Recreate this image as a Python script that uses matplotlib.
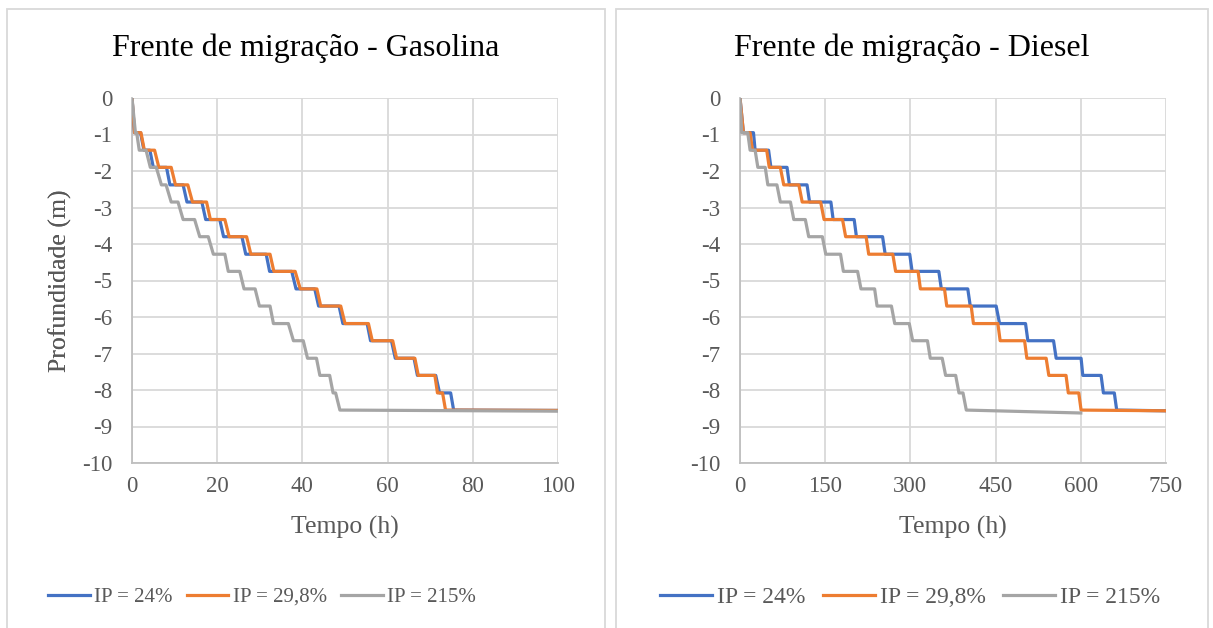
import matplotlib
matplotlib.use("Agg")
import matplotlib.pyplot as plt
from matplotlib.patches import Rectangle

plt.rcParams["font.family"] = ["Liberation Serif", "DejaVu Serif"]
plt.rcParams["axes.unicode_minus"] = False

_C = {
    "blue":   "#4472C4",
    "orange": "#ED7D31",
    "gray":   "#A5A5A5",
    "grid":   "#D9D9D9",
    "axis":   "#BFBFBF",
    "text":   "#595959",
}

series_labels = ["IP = 24%", "IP = 29,8%", "IP = 215%"]

# depth of each plateau of the migration front (m)
levels = [-0.95, -1.43, -1.90, -2.38, -2.85, -3.33, -3.80, -4.28, -4.75,
          -5.23, -5.70, -6.18, -6.65, -7.13, -7.60, -8.08, -8.55]

# Gasolina: start / end time (h) of each plateau
gas_24_start = [0.6, 2.8, 5.0, 8.9, 12.9, 17.3, 21.5, 26.7, 32.3, 38.5, 43.8,
                49.5, 56.0, 61.8, 67.0, 72.2, 75.5]
gas_24_end = [2.0, 4.2, 8.1, 12.0, 16.4, 20.6, 25.8, 31.5, 37.5, 42.9, 48.6,
              55.2, 60.9, 66.2, 71.3, 74.8, 100]
gas_298_start = [0.6, 2.9, 6.3, 10.2, 14.2, 18.4, 22.8, 27.9, 33.3, 39.5, 44.3,
                 50.0, 56.4, 62.1, 67.2, 71.7, 73.6]
gas_298_end = [2.1, 5.3, 9.2, 13.1, 17.5, 21.8, 26.9, 32.4, 38.3, 43.4, 49.0,
               55.5, 61.2, 66.4, 71.1, 72.9, 100]
gas_215_start = [0.8, 1.7, 4.3, 6.9, 9.2, 12.0, 15.9, 19.1, 22.6, 26.3, 29.9,
                 33.2, 37.9, 41.2, 44.1, 47.2, 48.8]
gas_215_end = [1.1, 3.3, 5.7, 8.0, 10.8, 14.7, 17.9, 21.8, 25.3, 28.9, 32.4,
               36.7, 40.2, 43.3, 46.4, 47.8, 100]
gas_final = [-8.56, -8.56, -8.58]

# Diesel
die_24_start = [6, 26.6, 54.4, 87, 122.5, 164, 205, 255.6, 303, 354.5, 405.4,
                457, 506.8, 556.6, 603.5, 639.8, 663.2]
die_24_end = [23.7, 50.3, 82.8, 118, 160, 201, 251, 298.8, 350, 401, 451,
              502.7, 552, 600.5, 635.7, 659, 750]
die_298_start = [6, 21.9, 51.5, 77, 109.5, 148, 186, 226.6, 274, 317.6, 364,
                 411, 458, 505, 543.7, 578, 600.5]
die_298_end = [17.8, 47, 71, 103.6, 142, 180.5, 222, 269, 313.5, 360, 407,
               454, 501, 539, 574, 596.4, 750]
die_215_start = [3, 17.8, 31.4, 49, 71, 94.7, 121, 151, 182, 213, 241.3,
                 272.4, 304, 335, 362, 385.5, 398.4]
die_215_end = [13.6, 26.6, 44.4, 65, 88.8, 115, 145, 177, 207, 237, 266.6,
               298, 330, 356, 379.7, 392.6, 600]
die_final = [-8.57, -8.57, -8.63]


def staircase(starts, ends, final):
    xs, ys = [0], [0]
    for s, e, lv in zip(starts, ends, levels):
        xs += [s, e]
        ys += [lv, lv]
    ys[-1] = final
    return xs, ys


W, H = 1213, 628
fig = plt.figure(figsize=(W / 100, H / 100), dpi=100, facecolor="white")

panels = [
    dict(px=(7, 605), ax_x=132, title="Frente de migração - Gasolina",
         xmax=100, xstep=20, leg_fs=15, hl=2.0, cs=0.7, leg_cx=262,
         data=[(gas_24_start, gas_24_end), (gas_298_start, gas_298_end),
               (gas_215_start, gas_215_end)], final=gas_final),
    dict(px=(616, 1208), ax_x=740, title="Frente de migração - Diesel",
         xmax=750, xstep=150, leg_fs=17, hl=2.2, cs=0.76, leg_cx=910,
         data=[(die_24_start, die_24_end), (die_298_start, die_298_end),
               (die_215_start, die_215_end)], final=die_final),
]
colors = [_C["blue"], _C["orange"], _C["gray"]]

for p in panels:
    x0, x1 = p["px"]
    fig.patches.append(Rectangle((x0 / W, 0 - 0.01), (x1 - x0) / W, 1 - 9 / H + 0.01,
                                 transform=fig.transFigure, fill=False,
                                 edgecolor=_C["grid"], lw=1.3))
    ax = fig.add_axes([p["ax_x"] / W, (H - 463) / H, 426 / W, 365 / H])
    handles = []
    for (st, en), fin, col, lab in zip(p["data"], p["final"], colors, series_labels):
        xs, ys = staircase(st, en, fin)
        h, = ax.plot(xs, ys, color=col, lw=2.3, label=lab,
                     solid_joinstyle="round", zorder=3)
        handles.append(h)

    ax.set_xlim(0, p["xmax"])
    ax.set_ylim(-10, 0)
    ax.set_xticks(range(0, p["xmax"] + 1, p["xstep"]))
    ax.set_yticks(range(-10, 1))
    ax.grid(True, color=_C["grid"], lw=1.3)
    ax.set_axisbelow(True)
    for s in ("top", "right"):
        ax.spines[s].set_visible(False)
    for s in ("left", "bottom"):
        ax.spines[s].set_color(_C["axis"])
        ax.spines[s].set_linewidth(1.3)
    ax.tick_params(length=0, labelsize=16.5, labelcolor=_C["text"])
    ax.tick_params(axis="x", pad=9)
    ax.tick_params(axis="y", pad=14)

    ax.set_xlabel("Tempo (h)", fontsize=18.5, color=_C["text"])
    ax.xaxis.set_label_coords(0.5, (463 - 527) / 365)
    ax.xaxis.label.set_va("center")
    ax.set_ylabel("Profundidade (m)", fontsize=18.5, color=_C["text"])
    ax.yaxis.set_label_coords((60 - p["ax_x"]) / 426, 0.5)
    ax.yaxis.label.set_va("center")

    fig.text((x0 + x1) / 2 / W, 1 - 48 / H, p["title"], fontsize=23,
             ha="center", va="center", color="black")

    fig.legend(handles=handles, loc="center", ncol=3, frameon=False,
               bbox_to_anchor=(p["leg_cx"] / W, 1 - 597 / H),
               fontsize=p["leg_fs"], handlelength=p["hl"], handletextpad=0.2,
               columnspacing=p["cs"], labelcolor=_C["text"])

fig.savefig("out.png", dpi=100, facecolor="white")
